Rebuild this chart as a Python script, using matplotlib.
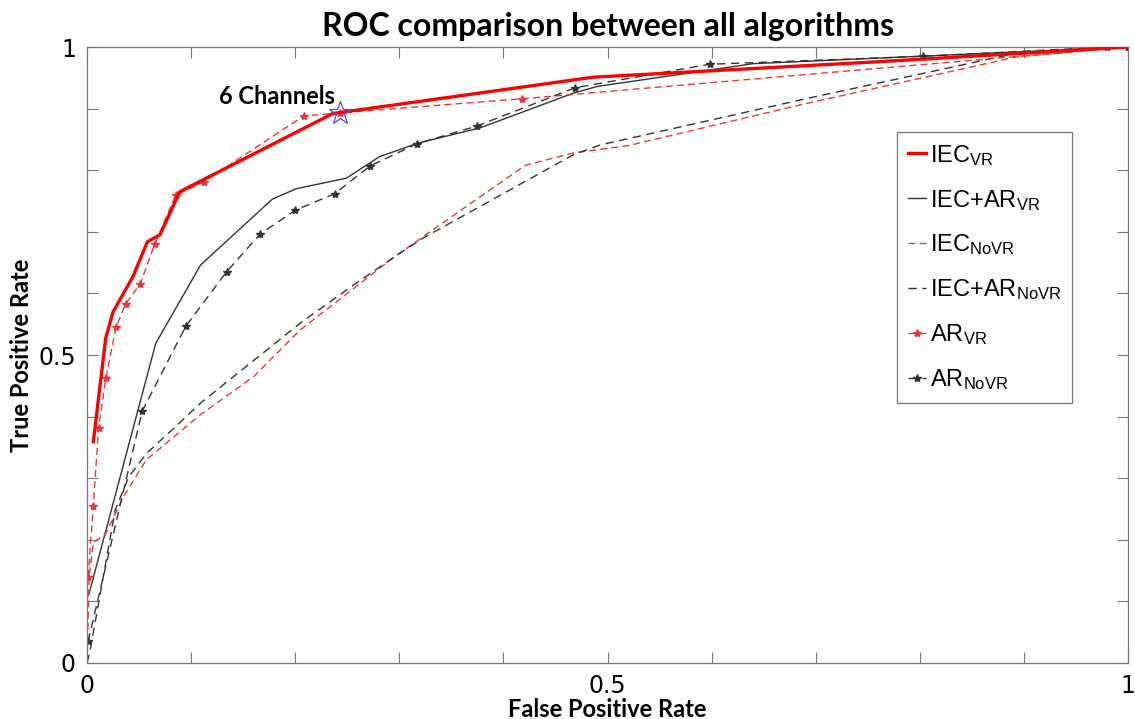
import matplotlib.pyplot as plt
import numpy as np

plt.rcParams['mathtext.default'] = 'regular'

# ROC curves (FPR, TPR)
iec_vr_x = [0.006, 0.018, 0.025, 0.044, 0.058, 0.070, 0.089, 0.236, 0.486, 0.759, 1.0]
iec_vr_y = [0.359, 0.528, 0.570, 0.627, 0.684, 0.695, 0.765, 0.892, 0.951, 0.976, 1.0]

iec_ar_vr_x = [0.002, 0.066, 0.109, 0.178, 0.201, 0.249, 0.281, 0.318, 0.378, 0.467, 0.490, 0.640, 1.0]
iec_ar_vr_y = [0.113, 0.519, 0.646, 0.753, 0.770, 0.787, 0.822, 0.844, 0.869, 0.925, 0.936, 0.973, 1.0]

iec_novr_x = [0.0, 0.002, 0.006, 0.018, 0.035, 0.057, 0.089, 0.109, 0.160, 0.205, 0.250, 0.291, 0.332, 0.421, 0.467, 0.520, 0.685, 0.893, 1.0]
iec_novr_y = [0.0, 0.140, 0.195, 0.210, 0.270, 0.330, 0.375, 0.403, 0.465, 0.541, 0.600, 0.654, 0.703, 0.808, 0.828, 0.840, 0.906, 0.984, 1.0]

iec_ar_novr_x = [0.0, 0.003, 0.027, 0.040, 0.057, 0.089, 0.109, 0.140, 0.205, 0.253, 0.301, 0.323, 0.467, 0.493, 0.685, 0.893, 1.0]
iec_ar_novr_y = [0.0, 0.021, 0.248, 0.302, 0.340, 0.390, 0.422, 0.464, 0.552, 0.610, 0.666, 0.690, 0.825, 0.841, 0.914, 0.990, 1.0]

ar_vr_x = [0.001, 0.006, 0.011, 0.018, 0.028, 0.037, 0.051, 0.065, 0.085, 0.112, 0.208, 0.243, 0.418, 1.0]
ar_vr_y = [0.140, 0.255, 0.381, 0.462, 0.546, 0.583, 0.615, 0.680, 0.759, 0.781, 0.888, 0.893, 0.916, 1.0]

ar_novr_x = [0.001, 0.053, 0.095, 0.134, 0.166, 0.200, 0.238, 0.272, 0.317, 0.375, 0.469, 0.598, 0.803, 0.980, 1.0]
ar_novr_y = [0.035, 0.409, 0.547, 0.635, 0.696, 0.735, 0.762, 0.807, 0.843, 0.872, 0.934, 0.972, 0.985, 1.0, 1.0]

star_x = 0.243
star_y = 0.893
star_label = '6 Channels'

fig = plt.figure(figsize=(11.35, 7.19), dpi=100)
ax = fig.add_axes([0.0767, 0.0779, 0.9171, 0.8567])

ax.plot(iec_vr_x, iec_vr_y, color='#ff0000', lw=2.4, label='IEC$_{VR}$', zorder=5)
ax.plot(iec_ar_vr_x, iec_ar_vr_y, color='#333333', lw=1.0, label='IEC+AR$_{VR}$')
ax.plot(iec_novr_x, iec_novr_y, color='#e8393a', lw=1.0, ls=(0, (5, 3)), label='IEC$_{NoVR}$')
ax.plot(iec_ar_novr_x, iec_ar_novr_y, color='#333333', lw=1.0, ls=(0, (6, 4)), label='IEC+AR$_{NoVR}$')
ax.plot(ar_vr_x, ar_vr_y, color='#e8393a', lw=1.0, ls=(0, (5, 3)), marker='*', ms=6,
        label='AR$_{VR}$')
ax.plot(ar_novr_x, ar_novr_y, color='#333333', lw=1.0, ls=(0, (6, 4)), marker='*', ms=6,
        label='AR$_{NoVR}$')

ax.plot(star_x, star_y, marker='*', ms=17, mfc='none', mec='#4a4aff', mew=0.9, zorder=6)
ax.text(star_x - 0.116, star_y + 0.027, star_label, fontsize=17, fontweight='bold',
        family='Lato', ha='left', va='center')

ax.set_xlim(0, 1)
ax.set_ylim(0, 1)
ticks = np.arange(0, 1.01, 0.1)
tick_labels = ['0', '', '', '', '', '0.5', '', '', '', '', '1']
ax.set_xticks(ticks)
ax.set_xticklabels(tick_labels)
ax.set_yticks(ticks)
ax.set_yticklabels(tick_labels)
ax.tick_params(direction='in', length=8, width=0.8, color='#777777', top=True, right=True,
               labelsize=17, pad=8)
for lab in ax.get_xticklabels() + ax.get_yticklabels():
    lab.set_family(['Liberation Sans Narrow', 'DejaVu Sans'])
for s in ax.spines.values():
    s.set_color('#777777')
    s.set_linewidth(0.9)

ax.set_title('ROC comparison between all algorithms', fontsize=23, fontweight='bold',
             family='Lato', pad=8)
ax.set_xlabel('False Positive Rate', fontsize=17, fontweight='bold', family='Lato', labelpad=0)
ax.set_ylabel('True Positive Rate', fontsize=17, fontweight='bold', family='Lato', labelpad=4)

leg = ax.legend(loc='upper left', bbox_to_anchor=(0.778, 0.862), fancybox=False,
                edgecolor='#777777', framealpha=1, handlelength=0.8, handletextpad=0.15,
                labelspacing=0.85, borderpad=0.45, borderaxespad=0,
                prop={'family': 'Liberation Sans', 'size': 17})
leg.get_frame().set_linewidth(0.9)

fig.savefig('out.png', dpi=100)
